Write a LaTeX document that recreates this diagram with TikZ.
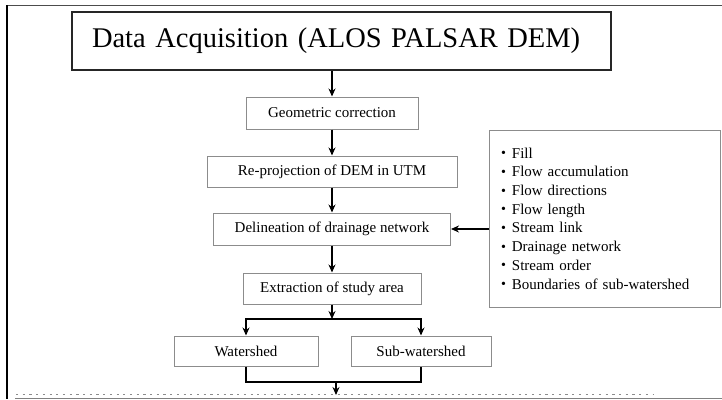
\documentclass[tikz,border=0pt]{standalone}
\usepackage{fontspec}
\setmainfont{Liberation Serif}
\usetikzlibrary{arrows.meta,positioning}

\newcommand{\itemdot}{\raisebox{0.5pt}{\fontsize{14}{14}\selectfont\textbullet}\hspace{6pt}}

\tikzset{
  stepbox/.style={draw=black!45, line width=1pt, inner sep=0pt, font=\fontsize{15}{18}\selectfont},
  titlebox/.style={draw=black!85, line width=1.2pt, inner ysep=0pt, inner xsep=20pt, text width=499pt, align=left, minimum height=58pt, font=\fontsize{28.5}{32}\selectfont},
  listbox/.style={draw=black!45, line width=1pt, inner ysep=0pt, inner xsep=12pt, text width=207pt, align=left, minimum height=177pt, font=\fontsize{15}{18.7}\selectfont},
  flow/.style={draw, line width=1.6pt, -{Stealth[length=8pt,width=7pt]}},
  joint/.style={draw, line width=1.6pt},
}

\begin{document}
\begin{tikzpicture}[x=1pt,y=-1pt]
\useasboundingbox (0,0) rectangle (722,399);
% page edges
\draw[black!70, line width=1pt] (7,5) -- (722,5);
\draw[black, line width=2pt] (7,5) -- (7,399);
\draw[black!50, line width=1pt] (15,398) -- (722,398);
\draw[black!45, line width=1.8pt, dash pattern=on 2.2pt off 4.5pt] (16,394.5) -- (654,394.5);

\node[titlebox] (acq) at (341.5,41) {Data Acquisition (ALOS PALSAR DEM)};
\node[stepbox, minimum width=172pt, minimum height=32pt] (geo) at (332,113) {Geometric correction};
\node[stepbox, minimum width=250pt, minimum height=31pt] (rep) at (332,171.5) {Re-projection of DEM in UTM};
\node[stepbox, minimum width=237pt, minimum height=32pt] (del) at (332,229) {Delineation of drainage network};
\node[stepbox, minimum width=178pt, minimum height=31pt] (ext) at (332,288.5) {Extraction of study area};
\node[stepbox, minimum width=144pt, minimum height=30pt] (ws) at (246,351) {Watershed};
\node[stepbox, minimum width=140pt, minimum height=30pt] (sws) at (421,351) {Sub-watershed};
\node[listbox] (tools) at (604.5,218.5) {%
  \itemdot Fill\\
  \itemdot Flow accumulation\\
  \itemdot Flow directions\\
  \itemdot Flow length\\
  \itemdot Stream link\\
  \itemdot Drainage network\\
  \itemdot Stream order\\
  \itemdot Boundaries of sub-watershed};

\coordinate (split) at (332,319);
\coordinate (merge) at (336,382);
\coordinate (out) at (336,395);

\draw[flow] (acq.south -| geo) -- (geo);
\draw[flow] (geo) -- (rep);
\draw[flow] (rep) -- (del);
\draw[flow] (del) -- (ext);
\draw[flow] (ext) -- (split);
\draw[flow] (split) -| (ws);
\draw[flow] (split) -| (sws);
\draw[joint] (ws) |- (merge) -| (sws);
\draw[flow] (merge) -- (out);
\draw[flow] (tools.west |- del) -- (del);
\end{tikzpicture}
\end{document}
